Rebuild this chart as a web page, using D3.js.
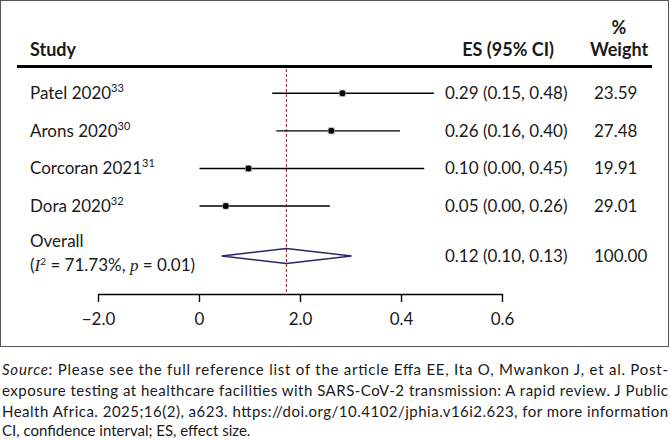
<!DOCTYPE html>
<html>
<head>
<meta charset="utf-8">
<script src="https://cdn.jsdelivr.net/npm/d3@7"></script>
<style>
  body { margin: 0; background: #fff; }
  svg text { font-family: Lato, "Open Sans", sans-serif; fill: #1a1a1a; }
  .hdr { font-weight: bold; font-size: 18px; }
  .lbl { font-size: 17px; }
  .foot { font-size: 15px; }
  .axis text { font-size: 17px; font-family: Lato, sans-serif; }
</style>
</head>
<body>
<script>
// study rows
var studies = ["Patel 2020", "Arons 2020", "Corcoran 2021", "Dora 2020"];
var refs = ["33", "30", "31", "32"];
var es = [0.284, 0.262, 0.098, 0.053];
var ciLow = [0.145, 0.153, 0.001, 0.001];
var ciHigh = [0.465, 0.398, 0.446, 0.259];
var esLabels = ["0.29 (0.15, 0.48)", "0.26 (0.16, 0.40)", "0.10 (0.00, 0.45)", "0.05 (0.00, 0.26)"];
var weights = ["23.59", "27.48", "19.91", "29.01"];

// pooled estimate (as drawn)
var overallEs = 0.173, overallLow = 0.045, overallHigh = 0.302;
var overallLabel = "0.12 (0.10, 0.13)";
var overallWeight = "100.00";
var refLine = 0.173;

// axis ticks (labels as printed)
var tickValues = [-0.2, 0, 0.2, 0.4, 0.6];
var tickLabels = ["\u22122.0", "0", "2.0", "0.4", "0.6"];

var footLines = [
	"Please see the full reference list of the article Effa EE, Ita O, Mwankon J, et al. Post-",
	"exposure testing at healthcare facilities with SARS-CoV-2 transmission: A rapid review. J Public",
	"Health Africa. 2025;16(2), a623. https://doi.org/10.4102/jphia.v16i2.623, for more information",
	"CI, confidence interval; ES, effect size."
];

var W = 670, H = 440;
var svg = d3.select("body").append("svg")
	.attr("width", W)
	.attr("height", H);

var x = d3.scaleLinear().domain([-0.2, 0.6]).range([98, 502]);
var y = d3.scaleLinear().domain([0, 3]).range([93.3, 206]);
var yOverall = 256;
var axisY = 294;

// frame
svg.append("rect")
	.attr("x", 0.5).attr("y", 0.5)
	.attr("width", 668).attr("height", 346)
	.attr("fill", "none")
	.attr("stroke", "#555")
	.attr("stroke-width", 1);

// headers
svg.append("text").attr("class", "hdr").attr("x", 30).attr("y", 56).text("Study");
svg.append("text").attr("class", "hdr").attr("x", 554).attr("y", 56)
	.attr("text-anchor", "end").text("ES (95% CI)");
svg.append("text").attr("class", "hdr").attr("x", 619).attr("y", 34)
	.attr("text-anchor", "middle").text("%");
svg.append("text").attr("class", "hdr").attr("x", 619).attr("y", 56)
	.attr("text-anchor", "middle").text("Weight");

svg.append("line")
	.attr("x1", 17).attr("x2", 652)
	.attr("y1", 66.5).attr("y2", 66.5)
	.attr("stroke", "#000")
	.attr("stroke-width", 3);

// reference line
svg.append("line")
	.attr("x1", x(refLine)).attr("x2", x(refLine))
	.attr("y1", 69).attr("y2", axisY)
	.attr("stroke", "#9b1c1c")
	.attr("stroke-width", 1)
	.attr("stroke-dasharray", "3,2");

var rows = svg.append("g").selectAll("g")
	.data(studies)
	.enter().append("g");

rows.append("line")
	.attr("x1", (d, i) => x(ciLow[i]))
	.attr("x2", (d, i) => x(ciHigh[i]))
	.attr("y1", (d, i) => y(i))
	.attr("y2", (d, i) => y(i))
	.attr("stroke", "#000")
	.attr("stroke-width", 1.4);

rows.append("rect")
	.attr("x", (d, i) => x(es[i]) - 3.5)
	.attr("y", (d, i) => y(i) - 3.5)
	.attr("width", 7).attr("height", 7)
	.attr("fill", "#bbb");

rows.append("circle")
	.attr("cx", (d, i) => x(es[i]))
	.attr("cy", (d, i) => y(i))
	.attr("r", 3)
	.attr("fill", "#000");

var names = rows.append("text")
	.attr("class", "lbl")
	.attr("x", 30)
	.attr("y", (d, i) => y(i) + 6);
names.append("tspan").text(d => d);
names.append("tspan")
	.attr("dy", -7)
	.style("font-size", "11px")
	.text((d, i) => refs[i]);

rows.append("text")
	.attr("class", "lbl")
	.attr("x", 445)
	.attr("y", (d, i) => y(i) + 6)
	.text((d, i) => esLabels[i]);

rows.append("text")
	.attr("class", "lbl")
	.attr("x", 594)
	.attr("y", (d, i) => y(i) + 6)
	.text((d, i) => weights[i]);

// overall
svg.append("text").attr("class", "lbl").attr("x", 30).attr("y", 247).text("Overall");
var het = svg.append("text").attr("class", "lbl").attr("x", 30).attr("y", 271);
het.append("tspan").text("(");
het.append("tspan").style("font-family", "'Liberation Serif', serif").style("font-style", "italic").text("I");
het.append("tspan").attr("dy", -6).style("font-size", "10px").text("2");
het.append("tspan").attr("dy", 6).text(" = 71.73%, ");
het.append("tspan").style("font-family", "'Liberation Serif', serif").style("font-style", "italic").text("p");
het.append("tspan").text(" = 0.01)");

svg.append("path")
	.attr("d", "M" + x(overallLow) + "," + yOverall +
		"L" + x(overallEs) + "," + (yOverall - 7.5) +
		"L" + x(overallHigh) + "," + yOverall +
		"L" + x(overallEs) + "," + (yOverall + 7.5) + "Z")
	.attr("fill", "none")
	.attr("stroke", "#2b2466")
	.attr("stroke-width", 1.5);

svg.append("text").attr("class", "lbl").attr("x", 445).attr("y", yOverall + 6).text(overallLabel);
svg.append("text").attr("class", "lbl").attr("x", 594).attr("y", yOverall + 6).text(overallWeight);

// axis
var xAxis = d3.axisBottom(x)
	.tickValues(tickValues)
	.tickFormat((d, i) => tickLabels[i])
	.tickSize(8)
	.tickSizeOuter(0)
	.tickPadding(11);

var ax = svg.append("g")
	.attr("class", "axis")
	.attr("transform", "translate(0," + axisY + ")")
	.call(xAxis);
ax.select(".domain").attr("stroke", "#000").attr("stroke-width", 1.4);
ax.selectAll(".tick line").attr("stroke", "#000").attr("stroke-width", 1.4);
ax.selectAll(".tick text").attr("fill", "#1a1a1a");

// footnote
var footY = [375, 396, 417, 436];
var f0 = svg.append("text").attr("class", "foot").attr("x", 2).attr("y", footY[0])
	.attr("textLength", 666).attr("lengthAdjust", "spacing");
f0.append("tspan").style("font-style", "italic").text("Source");
f0.append("tspan").text(": " + footLines[0]);
svg.append("text").attr("class", "foot").attr("x", 2).attr("y", footY[1])
	.attr("textLength", 666).attr("lengthAdjust", "spacing").text(footLines[1]);
svg.append("text").attr("class", "foot").attr("x", 2).attr("y", footY[2])
	.attr("textLength", 666).attr("lengthAdjust", "spacing").text(footLines[2]);
svg.append("text").attr("class", "foot").attr("x", 2).attr("y", footY[3]).text(footLines[3]);
</script>
</body>
</html>
